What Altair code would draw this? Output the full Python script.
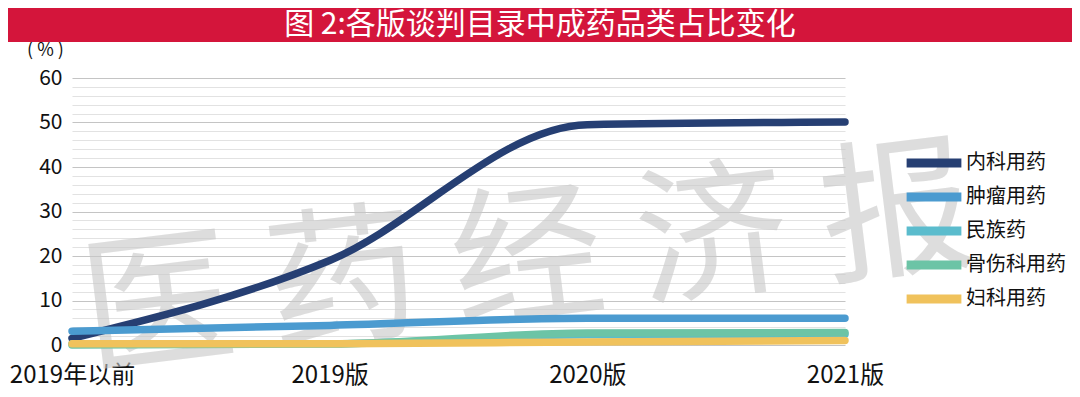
import altair as alt
import pandas as pd

categories = ["2019年以前", "2019版", "2020版", "2021版"]
series_names = ["内科用药", "肿瘤用药", "民族药", "骨伤科用药", "妇科用药"]
neike = [1.5, 19.0, 49.5, 50.1]
zhongliu = [3.1, 4.4, 6.0, 6.0]
minzu = [0.3, 0.3, 2.3, 2.4]
gushang = [0.0, 0.2, 2.7, 2.8]
fuke = [0.3, 0.3, 0.7, 1.0]
colors = ["#263f73", "#4b9bd0", "#5bbccd", "#6cc4a6", "#f0c25c"]
title_text = "图 2:各版谈判目录中成药品类占比变化"
watermark_text = "医 药 经 济 报"
y_ticks = list(range(0, 61, 2))

FONT = "Noto Sans CJK SC"

rows = []
for name, vals in zip(series_names, [neike, zhongliu, minzu, gushang, fuke]):
    for c, v in zip(categories, vals):
        rows.append({"series": name, "category": c, "value": v})
df = pd.DataFrame(rows)
one = pd.DataFrame({"k": [0]})

lines = alt.Chart(df).mark_line(interpolate="monotone", strokeWidth=7.5, strokeCap="round").encode(
    x=alt.X("category:N", sort=categories,
            scale=alt.Scale(type="point", padding=0),
            axis=alt.Axis(title=None, labelAngle=0, labelFontSize=24, labelColor="#111",
                          labelPadding=18, ticks=False, domain=False, grid=False,
                          labelFont=FONT)),
    y=alt.Y("value:Q", scale=alt.Scale(domain=[0, 60], nice=False),
            axis=alt.Axis(values=y_ticks,
                          labelExpr="datum.value % 10 === 0 ? datum.label : ''",
                          gridColor={"condition": {"test": "datum.value % 10 === 0", "value": "#c4c4c4"},
                                     "value": "#e2e2e2"},
                          gridWidth=1.2,
                          ticks=False, domain=False, labelFontSize=21, labelColor="#111",
                          labelPadding=10, labelFont=FONT,
                          title="( % )", titleAngle=0, titleX=-27, titleY=-28,
                          titleFontSize=18, titleFontWeight="normal", titleFont=FONT,
                          titleColor="#111", titleAlign="center", titleBaseline="middle")),
    color=alt.Color("series:N", sort=series_names,
                    scale=alt.Scale(domain=series_names, range=colors),
                    legend=alt.Legend(orient="none", legendX=830, legendY=68, title=None,
                                      symbolType="stroke", symbolSize=3000, symbolStrokeWidth=9,
                                      clipHeight=34, rowPadding=0, labelFontSize=20,
                                      labelColor="#111", labelFont=FONT, labelOffset=0)),
)

watermark = alt.Chart(one).mark_text(
    text=watermark_text, fontSize=152, font=FONT, color="#c8c8c8", opacity=0.6,
    angle=353, align="center", baseline="middle"
).encode(x=alt.value(456), y=alt.value(186))

title_bar = alt.Chart(one).mark_rect(color="#d4153b").encode(
    x=alt.value(-64), x2=alt.value(1000), y=alt.value(-70), y2=alt.value(-36)
)
title = alt.Chart(one).mark_text(
    text=title_text, fontSize=30, font=FONT, color="white", align="center", baseline="middle"
).encode(x=alt.value(468), y=alt.value(-53))

chart = alt.layer(watermark, lines, title_bar, title).properties(
    width=773, height=267,
    autosize=alt.AutoSizeParams(type="none"),
    padding={"left": 64, "top": 70, "right": 227, "bottom": 52},
).configure_view(stroke=None)

chart.save("out.html", embed_options={"renderer": "svg", "actions": False})
